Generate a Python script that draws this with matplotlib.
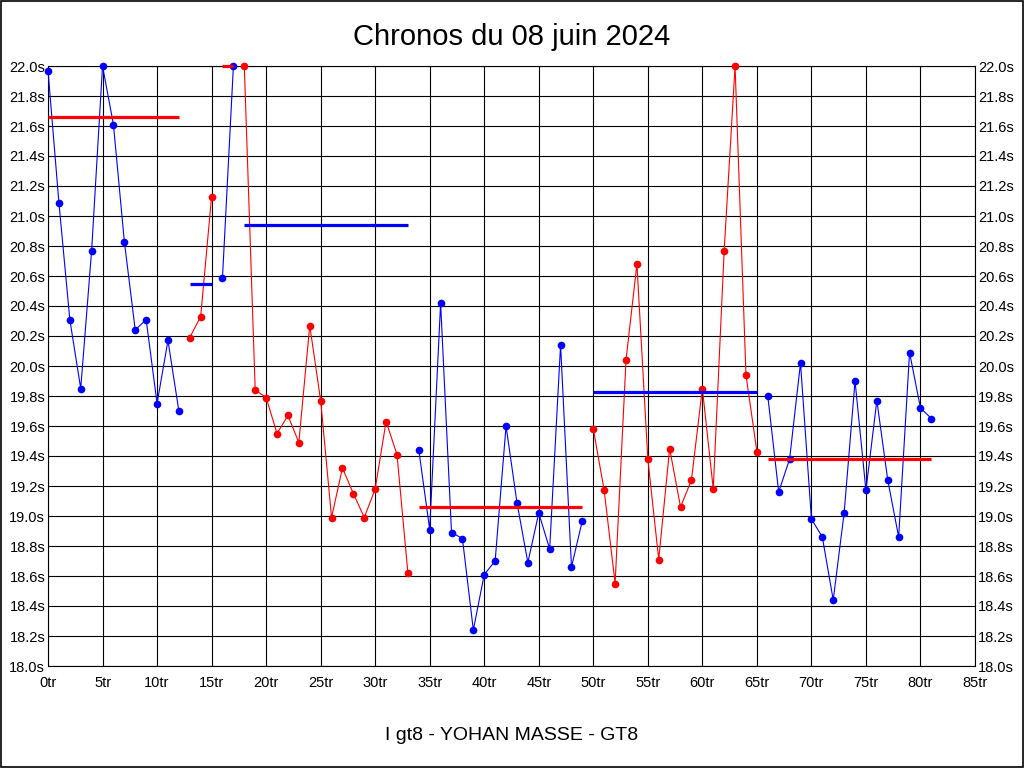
import numpy as np
import matplotlib
matplotlib.use("Agg")
import matplotlib.pyplot as plt
import matplotlib.ticker as mtick

plt.rcParams['font.family'] = ['Liberation Sans', 'DejaVu Sans']

# lap times (s), one per lap starting at lap 0
lap_times = [
    21.97, 21.09, 20.31, 19.85, 20.77, 22.00, 21.61, 20.83, 20.24, 20.31,
    19.75, 20.17, 19.70, 20.19, 20.33, 21.13, 20.59, 22.00, 22.00, 19.84,
    19.79, 19.55, 19.67, 19.49, 20.27, 19.77, 18.99, 19.32, 19.15, 18.99,
    19.18, 19.63, 19.41, 18.62, 19.44, 18.91, 20.42, 18.89, 18.85, 18.24,
    18.61, 18.70, 19.60, 19.09, 18.69, 19.02, 18.78, 20.14, 18.66, 18.97,
    19.58, 19.17, 18.55, 20.04, 20.68, 19.38, 18.71, 19.45, 19.06, 19.24,
    19.85, 19.18, 20.77, 22.00, 19.94, 19.43, 19.80, 19.16, 19.38, 20.02,
    18.98, 18.86, 18.44, 19.02, 19.90, 19.17, 19.77, 19.24, 18.86, 20.09,
    19.72, 19.65,
]

# stints: first lap, last lap, colour of the stint, average time of the stint
stint_first = [0, 13, 16, 18, 34, 50, 66]
stint_last = [12, 15, 17, 33, 49, 65, 81]
stint_color = ['blue', 'red', 'blue', 'red', 'blue', 'red', 'blue']
stint_avg = [21.66, 20.55, 22.00, 20.94, 19.06, 19.83, 19.38]

laps = np.arange(len(lap_times))
times = np.array(lap_times)

fig = plt.figure(figsize=(10.24, 7.68), dpi=100)
ax = fig.add_axes([48 / 1024, 102 / 768, 927 / 1024, 600 / 768])

for first, last, col, avg in zip(stint_first, stint_last, stint_color, stint_avg):
    sl = slice(first, last + 1)
    ax.plot(laps[sl], times[sl], color=col, lw=0.8, marker='o', ms=4.5,
            clip_on=False, zorder=3)
    # average line drawn in the other colour
    other = 'red' if col == 'blue' else 'blue'
    ax.plot([first, last], [avg, avg], color=other, lw=2.3,
            solid_capstyle='butt', clip_on=False, zorder=4)

ax.set_xlim(0, 85)
ax.set_ylim(18.0, 22.0)
ax.xaxis.set_major_locator(mtick.MultipleLocator(5))
ax.yaxis.set_major_locator(mtick.MultipleLocator(0.2))
ax.xaxis.set_major_formatter(mtick.FuncFormatter(lambda v, p: f"{v:.0f}tr"))
ax.yaxis.set_major_formatter(mtick.FuncFormatter(lambda v, p: f"{v:.1f}s"))
ax.grid(True, color='black', lw=0.8)
ax.set_axisbelow(True)
for s in ax.spines.values():
    s.set_linewidth(0.8)
ax.tick_params(axis='both', length=0, labelsize=10.5)
ax.tick_params(axis='y', labelright=True, pad=2)
ax.tick_params(axis='x', pad=7)

fig.text(0.5, 1 - 37 / 768, "Chronos du 08 juin 2024", ha='center', va='center',
         fontsize=21)
fig.text(0.5, 1 - 735 / 768, "I gt8 - YOHAN MASSE - GT8", ha='center', va='center',
         fontsize=14)

# border round the whole picture
fig.patches.append(plt.Rectangle((0.0005, 0.0007), 0.999, 0.9986, transform=fig.transFigure,
                                 fill=False, edgecolor='black', lw=1.2))

fig.savefig("out.png", dpi=100)
